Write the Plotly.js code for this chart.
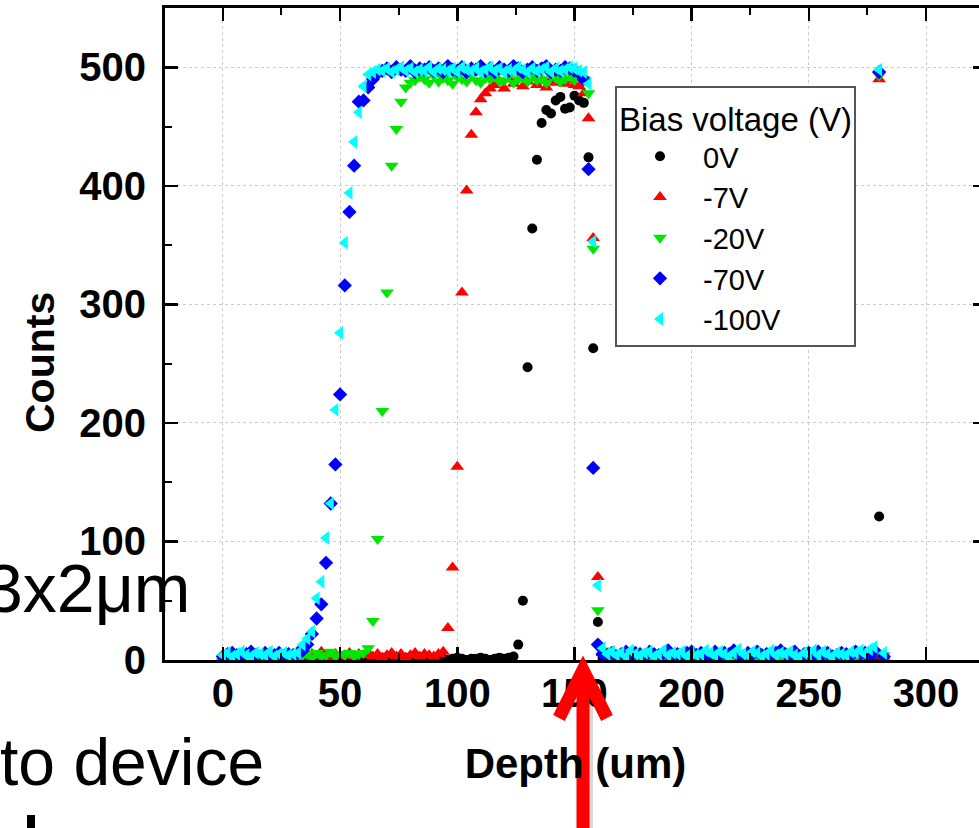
<!DOCTYPE html>
<html>
<head>
<meta charset="utf-8">
<script src="https://cdn.plot.ly/plotly-3.0.1.min.js"></script>
<style>
  html, body { margin: 0; padding: 0; overflow: hidden; background: #fff; }
  #chart { width: 990px; height: 828px; }
</style>
</head>
<body>
<div id="chart"></div>
<script>
// ---------------- data ----------------
const depth = [
  0,2,4,6,8,10,12,14,16,18,20,22,24,26,28,30,
  32,34,36,38,40,42,44,46,48,50,52,54,56,58,60,62,
  64,66,68,70,72,74,76,78,80,82,84,86,88,90,92,94,96,98,100,102,104,106,108,110,
  112,114,116,118,120,122,124,126,128,130,132,134,136,138,140,142,144,146,148,150,152,154,
  156,158,160,162,
  164,166,168,170,172,174,176,178,180,182,184,186,188,190,192,194,196,198,200,202,
  204,206,208,210,212,214,216,218,220,222,224,226,228,230,232,234,236,238,240,242,
  244,246,248,250,252,254,256,258,260,262,264,266,268,270,272,274,276,278,
  280,282
];

const counts0V = [
  1,0,2,1,0,1,2,0,1,1,0,2,1,0,1,2,
  0,1,1,2,0,1,0,2,1,0,1,1,0,2,1,0,
  1,0,2,1,0,1,1,2,0,1, 0,1,2,1,0,1,0,1,2,1, 0,1,1,2,1,0,1,2,1,2,
  3,13,50,247,364,422,453,464,461,472,475,465,466,476,472,470,
  424,263,32,2,
  1,0,1,2,0,1,0,1,1,0, 2,1,0,1,0,1,2,0,1,1, 0,1,0,2,1,0,1,1,0,1,
  2,0,1,0,1,1,0,2,1,0, 1,1,0,1,2,0,1,0,1,1, 0,2,1,0,1,0,1,1,
  121,1
];

const counts7V = [
  3,1,4,2,5,3,2,4,1,3,5,2,4,3,2,1,
  2,4,3,5,3,7,4,2,5,3,4,6,3,5,4,6,
  3,5,2,4,6,3,5,2,4,6,3,5,4,3,5,
  7,27,78,163,310,396,443,462,473,478,482,485,
  488,482,490,486,491,484,488,492,485,489,483,490,487,491,486,489,485,484,478,
  457,356,70,6,
  3,4,2,5,3,2,4,3,5,2, 4,3,2,5,4,3,2,4,3,5, 2,4,3,2,5,3,4,2,3,4,
  5,2,3,4,6,3,2,4,3,5, 2,3,4,2,5,3,4,2,3,5, 4,2,3,5,2,4,3,4,
  490,3
];

const counts20V = [
  2,4,1,3,5,2,4,3,1,5,2,3,4,2,3,1,
  3,4,5,2,6,3,4,7,3,5,4,6,3,5,6,10,
  33,102,210,310,417,448,471,483,487,
  489,492,490,487,493,488,491,489,486,492, 490,488,493,489,487,491,490,492,488,489,
  493,487,490,491,488,492,489,490,487,493, 491,488,490,492,489,493,490,
  478,347,42,8,
  4,3,5,2,6,4,3,5,4,2, 5,3,4,6,2,4,5,3,4,2, 5,4,3,6,4,2,5,3,4,5,
  3,4,2,5,6,3,4,2,5,3, 4,6,3,5,2,4,3,5,4,6, 3,2,5,4,3,5,4,6,
  493,4
];

const counts70V = [
  3,5,6,4,2,5,7,4,3,6,5,4,6,3,5,4,
  6,8,13,22,35,47,82,132,165,224,316,378,417,471,472,483,
  490,495,
  497,499,496,500,498,497,501,496,499,498, 500,497,499,496,501,498,497,500,496,499,
  498,501,497,499,496,500,498,497,501,499, 496,498,500,497,499,501,496,498,497,500,
  499,497,495,490,
  414,162,13,5,
  4,6,3,5,7,4,6,5,3,7, 5,4,6,8,4,5,3,6,7,4, 6,5,3,7,4,6,5,8,4,3,
  6,5,7,4,5,3,6,8,5,4, 7,3,5,6,4,7,5,6,3,4, 6,5,4,7,5,6,3,8,
  496,3
];

const counts100V = [
  4,6,3,5,7,4,3,6,5,4,7,3,5,6,4,5,
  6,13,18,24,52,66,103,132,211,276,352,394,437,462,484,494,
  496,498,497,499,496,498,500,497,499,496, 498,497,500,496,499,498,497,499,496,500,
  498,497,499,496,498,500,497,499,496,498, 497,500,498,496,499,497,498,500,496,499,
  497,498,500,499,497,496,
  486,353,63,10,
  5,7,4,6,3,8,5,4,6,7, 3,5,8,4,6,5,7,3,6,4, 5,8,6,4,7,5,3,6,9,5,
  4,7,6,3,5,8,4,6,5,7, 4,3,6,5,8,4,7,5,3,6, 5,4,7,6,8,5,9,11,
  498,6
];

const seriesNames = ['0V', '-7V', '-20V', '-70V', '-100V'];
const seriesValues = [counts0V, counts7V, counts20V, counts70V, counts100V];
const seriesColors = ['#000000', '#ff0000', '#00e600', '#0000ff', '#00ffff'];
const seriesSymbols = ['circle', 'triangle-up', 'triangle-down', 'diamond', 'triangle-left'];
const seriesSizes = [10, 12, 12, 11, 12];

const xTickVals = [0, 50, 100, 150, 200, 250, 300];
const yTickVals = [0, 100, 200, 300, 400, 500];

// ---------------- layout geometry ----------------
const FIG_W = 990, FIG_H = 828;
const M = {l: 165, r: 4, t: 8, b: 168};
const PW = FIG_W - M.l - M.r, PH = FIG_H - M.t - M.b;
const px = p => (p - M.l) / PW;             // pixel x -> paper x
const py = p => (FIG_H - M.b - p) / PH;     // pixel y -> paper y

const FONT = '"Liberation Sans", Arial, Helvetica, sans-serif';

const traces = seriesNames.map((name, k) => ({
  type: 'scatter',
  mode: 'markers',
  name: name,
  x: depth,
  y: seriesValues[k],
  marker: {symbol: seriesSymbols[k], color: seriesColors[k], size: seriesSizes[k], line: {width: 0}},
  hoverinfo: 'x+y+name'
}));

const axisCommon = {
  showline: true, linecolor: '#000', linewidth: 3,
  mirror: 'ticks',
  ticks: 'inside', ticklen: 13, tickwidth: 2.5, tickcolor: '#000',
  showgrid: true, gridcolor: '#cccccc', gridwidth: 1, griddash: 'dot',
  zeroline: false,
  tickfont: {family: FONT, size: 40, color: '#000', weight: 'bold'},
  automargin: false
};

const layout = {
  width: FIG_W, height: FIG_H,
  margin: M,
  paper_bgcolor: '#fff', plot_bgcolor: '#fff',
  font: {family: FONT, color: '#000'},
  showlegend: true,
  xaxis: Object.assign({}, axisCommon, {
    range: [-24.7, 325.6],
    tickvals: xTickVals,
    ticklabelstandoff: -4,
    minor: {dtick: 25, tick0: 0, ticks: 'inside', ticklen: 7, tickwidth: 2, tickcolor: '#000', showgrid: false},
    title: {text: 'Depth (um)', font: {family: FONT, size: 42, weight: 'bold', color: '#000'}, standoff: 35}
  }),
  yaxis: Object.assign({}, axisCommon, {
    range: [0, 550],
    tickvals: yTickVals,
    ticklabelstandoff: 8,
    minor: {dtick: 50, tick0: 0, ticks: 'inside', ticklen: 7, tickwidth: 2, tickcolor: '#000', showgrid: false}
  }),
  legend: {
    x: px(615), y: py(86), xanchor: 'left', yanchor: 'top',
    bgcolor: '#fff', bordercolor: '#555', borderwidth: 2,
    font: {family: FONT, size: 29, color: '#000'},
    title: {text: 'Bias voltage (V)', font: {family: FONT, size: 33, color: '#000'}},
    itemwidth: 76,
    traceorder: 'normal'
  },
  annotations: [
    // y-axis title (placed where the reference shows it)
    {xref: 'paper', yref: 'paper', x: px(40), y: py(362), xanchor: 'center', yanchor: 'middle',
     text: 'Counts', textangle: -90, showarrow: false,
     font: {family: FONT, size: 41, weight: 'bold', color: '#000'}},
    {xref: 'paper', yref: 'paper', x: px(192), y: py(588), xanchor: 'right', yanchor: 'middle',
     text: '3x2\u03bcm', showarrow: false, font: {family: FONT, size: 68, color: '#000'}},
    {xref: 'paper', yref: 'paper', x: px(266), y: py(762), xanchor: 'right', yanchor: 'middle',
     text: 'to device', showarrow: false, font: {family: FONT, size: 66, color: '#000'}}
  ],
  shapes: [
    // arrow shadow
    {type: 'line', xref: 'paper', yref: 'paper', x0: px(586), y0: py(840), x1: px(586), y1: py(678),
     line: {color: 'rgba(0,0,0,0.15)', width: 14}},
    // arrow shaft
    {type: 'line', xref: 'paper', yref: 'paper', x0: px(583), y0: py(840), x1: px(583), y1: py(672),
     line: {color: '#ff0000', width: 13}},
    // arrow head (open chevron)
    {type: 'path', xref: 'paper', yref: 'paper',
     path: 'M ' + px(559) + ',' + py(718) + ' L ' + px(583) + ',' + py(670) + ' L ' + px(607) + ',' + py(718),
     line: {color: '#ff0000', width: 13}},
    // fragment of text cut at bottom-left
    {type: 'rect', xref: 'paper', yref: 'paper', x0: px(27), x1: px(35), y0: py(828), y1: py(815),
     fillcolor: '#000', line: {width: 0}}
  ]
};

Plotly.newPlot('chart', traces, layout, {displayModeBar: false, staticPlot: true});
</script>
</body>
</html>
